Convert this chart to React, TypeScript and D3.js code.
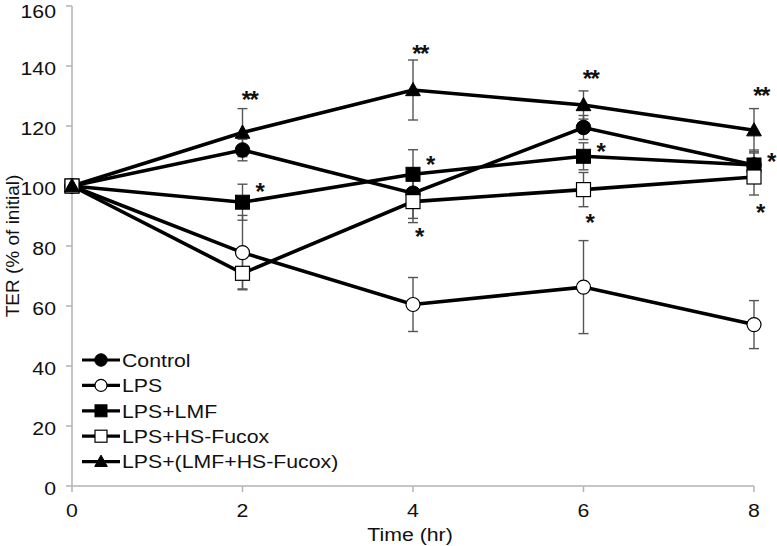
import React from "react";
import * as d3 from "d3";

const times = [0, 2, 4, 6, 8];
const seriesNames = ["Control", "LPS", "LPS+LMF", "LPS+HS-Fucox", "LPS+(LMF+HS-Fucox)"];
const controlVals = [100, 112, 97.6, 119.5, 107];
const controlErr = [0, 3.6, 8.4, 4, 5];
const lpsVals = [100, 77.8, 60.5, 66.3, 53.8];
const lpsErr = [0, 12.4, 9, 15.5, 8];
const lmfVals = [100, 94.6, 103.9, 109.9, 107];
const lmfErr = [0, 6, 8.2, 4.5, 4];
const hsVals = [100, 70.9, 94.8, 98.8, 103];
const hsErr = [0, 5.2, 7, 5.7, 6];
const triVals = [100, 117.8, 132, 127, 118.6];
const triErr = [0, 8, 10, 4.7, 7.2];
const markerKinds = ["circleFilled", "circleOpen", "squareFilled", "squareOpen", "triangle"];

// significance annotations: time, value, label, side
const starTimes = [2, 2, 4, 4, 4, 6, 6, 6, 8, 8, 8];
const starValues = [130.5, 100, 146, 109, 85, 137.5, 113.3, 89.4, 131.7, 109.8, 92.9];
const starLabels = ["**", "*", "**", "*", "*", "**", "*", "*", "**", "*", "*"];
const starSides = ["top", "right", "top", "right", "below", "top", "right", "below", "top", "right", "below"];

const yTicks = [0, 20, 40, 60, 80, 100, 120, 140, 160];
const xTicks = [0, 2, 4, 6, 8];

const W = 777;
const H = 546;
const FONT = "'Liberation Sans', Arial, sans-serif";
const SX = 1.12;

function Txt({
  x,
  y,
  anchor,
  size,
  children,
  weight,
}: {
  x: number;
  y: number;
  anchor?: string;
  size: number;
  children: React.ReactNode;
  weight?: string;
}) {
  return (
    <g transform={`translate(${x},${y}) scale(${SX},1)`}>
      <text x={0} y={0} textAnchor={anchor || "start"} fontSize={size} fontWeight={weight || "normal"} fill="#111">
        {children}
      </text>
    </g>
  );
}

function Marker({ kind, x, y, s }: { kind: string; x: number; y: number; s: number }) {
  if (kind === "circleFilled")
    return <circle cx={x} cy={y} r={s * 0.52} fill="#000" stroke="#000" strokeWidth={1} />;
  if (kind === "circleOpen")
    return <circle cx={x} cy={y} r={s * 0.5} fill="#fff" stroke="#000" strokeWidth={1.2} />;
  if (kind === "squareFilled")
    return <rect x={x - s / 2} y={y - s / 2} width={s} height={s} fill="#000" stroke="#000" strokeWidth={1} />;
  if (kind === "squareOpen")
    return <rect x={x - s / 2} y={y - s / 2} width={s} height={s} fill="#fff" stroke="#000" strokeWidth={1.2} />;
  const h = s * 0.9;
  const w = s * 1.05;
  return (
    <path
      d={`M${x},${y - h * 0.6}L${x + w / 2},${y + h * 0.45}L${x - w / 2},${y + h * 0.45}Z`}
      fill="#000"
      stroke="#000"
      strokeWidth={1}
    />
  );
}

export default function App() {
  const x = d3.scaleLinear().domain([0, 8]).range([72, 754]);
  const y = d3.scaleLinear().domain([0, 160]).range([486, 6]);

  const allVals = [controlVals, lpsVals, lmfVals, hsVals, triVals];
  const allErr = [controlErr, lpsErr, lmfErr, hsErr, triErr];

  const line = d3
    .line<number>()
    .x((_, i) => x(times[i]))
    .y((d) => y(d));

  const starDx: Record<string, number> = { top: 7, right: 17, below: 6 };
  const FS = 19;

  return (
    <svg
      width={W}
      height={H}
      style={{ position: "absolute", left: 0, top: 0, background: "#fff" }}
      fontFamily={FONT}
    >
      <rect width={W} height={H} fill="#fff" />
      {/* axes */}
      <g stroke="#b3b3b3" strokeWidth={1.5} fill="none">
        <line x1={x(0)} x2={x(0)} y1={y(160)} y2={y(0)} />
        <line x1={x(0)} x2={x(8)} y1={y(0)} y2={y(0)} />
        {yTicks.map((t) => (
          <line key={"yt" + t} x1={x(0) - 6} x2={x(0)} y1={y(t)} y2={y(t)} />
        ))}
        {xTicks.map((t) => (
          <line key={"xt" + t} x1={x(t)} x2={x(t)} y1={y(0)} y2={y(0) + 6} />
        ))}
      </g>
      {yTicks.map((t) => (
        <Txt key={"yl" + t} x={56} y={Math.max(y(t) + 8.5, 17.5)} anchor="end" size={FS}>
          {t}
        </Txt>
      ))}
      {xTicks.map((t) => (
        <Txt key={"xl" + t} x={x(t)} y={517} anchor="middle" size={FS}>
          {t}
        </Txt>
      ))}
      <Txt x={410} y={541} anchor="middle" size={FS}>
        Time (hr)
      </Txt>
      <text
        transform={`translate(19,${y(80)}) rotate(-90)`}
        textAnchor="middle"
        fontSize={FS}
        fill="#111"
      >
        TER (% of initial)
      </text>

      {/* lines */}
      {allVals.map((vals, si) => (
        <path key={"ln" + si} d={line(vals) || ""} fill="none" stroke="#000" strokeWidth={3.6} />
      ))}

      {/* error bars */}
      <g stroke="#555" strokeWidth={1.4}>
        {allVals.map((vals, si) =>
          vals.map((v, i) => {
            const e = allErr[si][i];
            if (!e) return null;
            const cx = x(times[i]);
            return (
              <g key={`eb${si}-${i}`}>
                <line x1={cx} x2={cx} y1={y(v + e)} y2={y(v - e)} />
                <line x1={cx - 5} x2={cx + 5} y1={y(v + e)} y2={y(v + e)} />
                <line x1={cx - 5} x2={cx + 5} y1={y(v - e)} y2={y(v - e)} />
              </g>
            );
          })
        )}
      </g>

      {/* markers */}
      {allVals.map((vals, si) =>
        vals.map((v, i) => (
          <Marker key={`mk${si}-${i}`} kind={markerKinds[si]} x={x(times[i])} y={y(v)} s={14} />
        ))
      )}

      {/* significance stars */}
      <g fontSize={24} fontWeight="bold" fill="#111">
        {starTimes.map((t, i) => (
          <text
            key={"st" + i}
            x={x(t) + starDx[starSides[i]]}
            y={y(starValues[i]) + 13.5}
            textAnchor="middle"
            letterSpacing={-1.5}
          >
            {starLabels[i]}
          </text>
        ))}
      </g>

      {/* legend */}
      <g>
        {seriesNames.map((name, i) => {
          const ly = 360 + i * 25.4;
          return (
            <g key={"lg" + i}>
              <line x1={82} x2={120} y1={ly} y2={ly} stroke="#000" strokeWidth={3.2} />
              <Marker kind={markerKinds[i]} x={101} y={ly} s={12} />
              <Txt x={122} y={ly + 6.8} size={FS}>
                {name}
              </Txt>
            </g>
          );
        })}
      </g>
    </svg>
  );
}
